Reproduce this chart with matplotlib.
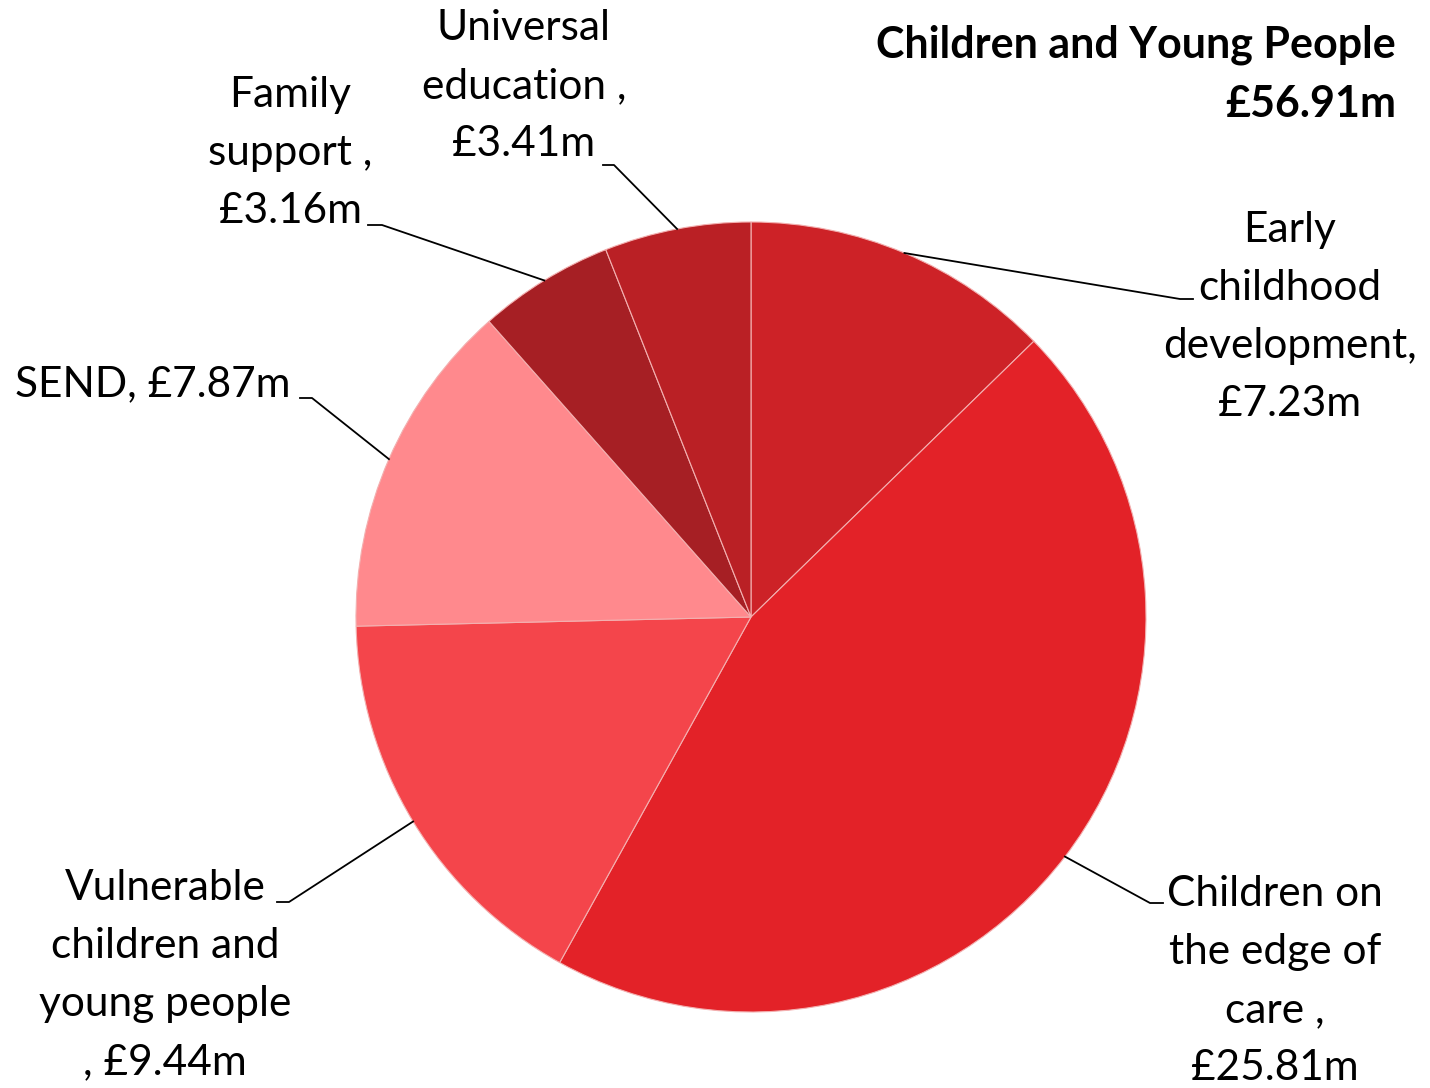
import numpy as np
import matplotlib
matplotlib.use("Agg")
import matplotlib.pyplot as plt

plt.rcParams["font.family"] = ["Lato", "DejaVu Sans"]

# Data (clockwise from 12 o'clock)
labels = [
    "Early\nchildhood\ndevelopment,\n£7.23m",
    "Children on\nthe edge of\ncare ,\n£25.81m",
    "Vulnerable\nchildren and\nyoung people\n, £9.44m",
    "SEND, £7.87m",
    "Family\nsupport ,\n£3.16m",
    "Universal\neducation ,\n£3.41m",
]
values = [7.23, 25.81, 9.44, 7.87, 3.16, 3.41]
colors = ["#CD2227", "#E32228", "#F4454B", "#FF898D", "#A61F24", "#BA2025"]

W, H = 1430, 1088
cx, cy, r = 751, H - 617, 395

fig = plt.figure(figsize=(W / 100, H / 100), dpi=100)
ax = fig.add_axes([0, 0, 1, 1])
ax.pie(values, colors=colors, startangle=90, counterclock=False,
       center=(cx, cy), radius=r, frame=False,
       wedgeprops=dict(edgecolor="#f3b0b0", linewidth=0.8))
ax.set_xlim(0, W)
ax.set_ylim(0, H)
ax.set_aspect("equal")
ax.axis("off")

# label layout: text position, alignment, elbow point, end of short horizontal
layout = [
    ((1290, 317), "center", (1180, 299), (1193, 299)),
    ((1275, 981), "center", (1150, 903), (1163, 903)),
    ((165, 975), "center", (289, 902), (277, 902)),
    ((15, 384), "left", (312, 398), (300, 398)),
    ((290, 153), "center", (382, 225), (368, 225)),
    ((524, 86), "center", (614, 165), (603, 165)),
]

total = sum(values)
cum = np.cumsum([0] + values)
for i, (lab, (tpos, ha, elbow, end)) in enumerate(zip(labels, layout)):
    mid = (cum[i] + values[i] / 2) / total * 2 * np.pi
    px = cx + r * np.sin(mid)
    py = cy + r * np.cos(mid)
    ax.plot([px, elbow[0], end[0]], [py, H - elbow[1], H - end[1]],
            color="black", lw=1.3)
    ax.text(tpos[0], H - tpos[1], lab, ha=ha, va="center",
            multialignment="center", fontsize=30.5, linespacing=1.65)

ax.text(1396, H - 74, "Children and Young People\n£56.91m", ha="right",
        va="center", multialignment="right", fontsize=31,
        fontweight="bold", linespacing=1.58)

fig.savefig("out.png", dpi=100)
